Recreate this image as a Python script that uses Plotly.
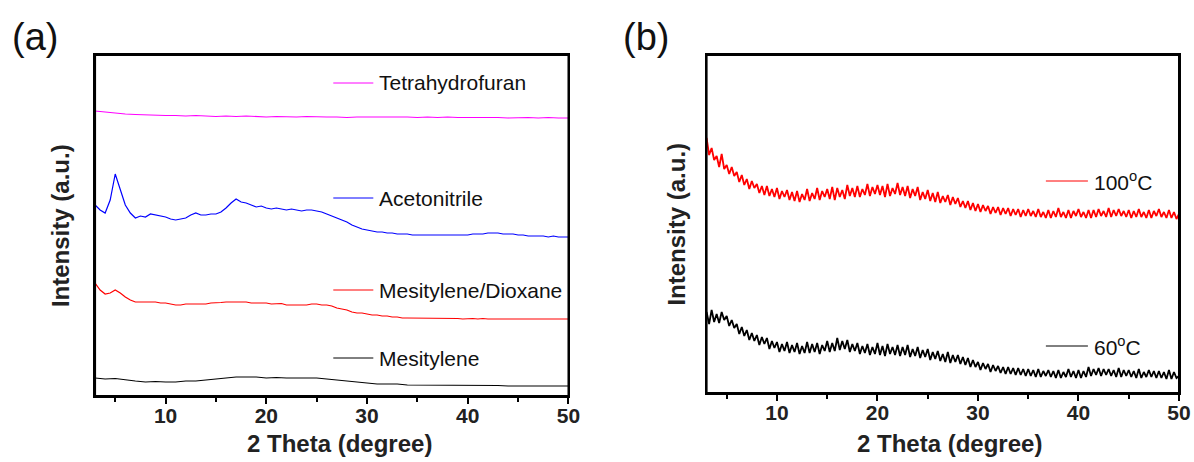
import plotly.graph_objects as go

# ---------------- data ----------------
two_theta_half = [3.0 + 0.5 * i for i in range(95)]     # 3.0 ... 50.0, 0.5 step
two_theta_one = list(range(3, 51))                      # 3 ... 50, 1.0 step
two_theta_quarter = [3.0 + 0.25 * i for i in range(189)]  # 3.0 ... 50.0, 0.25 step

# Panel (a): offset XRD patterns (a.u.)
thf = [289, 288, 286.5, 286, 285.5, 285, 285, 284.5, 284.5, 284, 284.5, 284, 283.5, 284, 283.5, 284,
       283.5, 283, 283.5, 283, 283, 283.5, 283, 283, 283, 282.5, 283, 283, 283, 283.5, 283, 283,
       282.5, 283, 282.5, 283, 282.5, 282.5, 283, 282.5, 282.5, 282, 282.5, 282.5, 282, 282.5, 282, 282]

acetonitrile = [195, 190, 187, 200, 226, 210, 195, 187, 182, 184, 183, 186, 185, 184, 183, 181,
                180, 181, 182, 185, 187, 185, 185, 186, 186, 188, 192, 197, 201, 198, 197, 195,
                193, 194, 192, 191, 192, 191, 190, 191, 190, 189, 190, 190, 189, 188, 186, 184,
                182, 180, 178, 175, 173, 171, 170, 169, 168, 168, 167, 167, 166, 166, 166, 165,
                165, 165, 165, 165, 165, 165, 165, 165, 165, 165, 165, 166, 166, 166, 167, 167,
                167, 166, 166, 166, 165, 165, 164, 164, 164, 164, 163, 164, 163, 163, 163]

mesitylene_dioxane = [117, 110, 106, 107, 110, 107, 103, 100, 98, 98, 98.5, 98, 98, 97, 97, 96,
                      95, 95, 96, 96, 96, 96, 96, 97, 97, 97.5, 98, 98, 98.5, 98, 98, 97,
                      97, 97.5, 97, 96, 96, 96.5, 95, 95, 95.5, 95, 95, 96, 96, 95,
                      95, 94, 92, 91, 90, 88, 87, 87, 86, 85, 85, 84, 84, 83,
                      83, 82, 82, 82, 82, 82, 81.5, 82, 81.5, 81.5, 82, 81.5, 81.5, 81, 81.5,
                      81.5, 81, 81.5, 81, 81, 81.5, 81, 81, 81, 81, 81.5, 81, 81, 81, 81,
                      81, 81, 81, 81, 81]

mesitylene = [22, 21, 21.5, 20, 19, 18, 18.5, 18, 18, 19, 19, 20, 21, 22, 23, 23,
              23, 22, 22.5, 22, 22, 22.5, 22, 21, 20, 19, 18, 17, 16, 16, 16, 15,
              15, 15, 15, 15, 14.5, 15, 14.5, 14.5, 14.5, 14, 14, 14.5, 14, 14, 14, 14]

# Panel (b): synthesis temperature (0.25 degree step)
t100 = [262, 245, 252, 240, 244, 233, 246, 231, 235, 226, 233, 224, 228, 218, 225, 215,
        221, 211, 219, 212, 216, 207, 214, 205, 214, 204, 211, 203, 212, 201, 209, 203,
        210, 200, 208, 199, 209, 198, 206, 200, 211, 199, 207, 201, 212, 200, 209, 203,
        211, 201, 213, 200, 212, 203, 210, 201, 215, 204, 212, 203, 214, 203, 211, 205,
        216, 204, 213, 206, 215, 205, 214, 203, 216, 204, 212, 206, 217, 205, 213, 204,
        214, 202, 211, 204, 213, 200, 208, 201, 210, 199, 207, 198, 208, 197, 204, 198,
        205, 195, 203, 196, 202, 193, 199, 192, 199, 190, 197, 189, 196, 188, 195, 189,
        194, 186, 193, 187, 193, 185, 192, 186, 192, 184, 191, 185, 191, 183, 190, 184,
        191, 184, 189, 183, 191, 183, 188, 182, 190, 182, 189, 183, 192, 183, 188, 182,
        190, 182, 189, 184, 191, 183, 188, 182, 190, 182, 190, 183, 191, 184, 189, 183,
        192, 183, 190, 184, 191, 184, 189, 183, 190, 182, 189, 183, 191, 183, 188, 182,
        190, 182, 189, 184, 191, 183, 188, 182, 190, 182, 188, 181, 186]

t60 = [88, 76, 90, 78, 86, 77, 88, 80, 84, 74, 80, 72, 76, 66, 73, 64,
       70, 60, 67, 59, 65, 55, 63, 56, 62, 51, 59, 52, 58, 48, 56, 49,
       58, 47, 55, 48, 57, 46, 54, 47, 58, 47, 56, 48, 57, 46, 55, 49,
       59, 48, 57, 49, 62, 50, 59, 51, 60, 48, 56, 49, 57, 46, 54, 47,
       56, 45, 53, 46, 57, 45, 54, 44, 56, 46, 53, 45, 55, 44, 53, 45,
       55, 43, 51, 44, 53, 42, 50, 43, 51, 40, 48, 41, 49, 39, 46, 38,
       48, 37, 45, 38, 45, 36, 43, 35, 42, 33, 40, 33, 38, 30, 37, 31,
       36, 28, 35, 29, 34, 27, 33, 26, 33, 26, 32, 25, 32, 25, 31, 24,
       31, 24, 30, 23, 31, 23, 29, 24, 30, 23, 29, 22, 30, 22, 28, 23,
       31, 23, 29, 22, 30, 22, 29, 23, 33, 24, 31, 25, 32, 24, 31, 25,
       31, 24, 30, 23, 32, 23, 30, 24, 30, 23, 29, 22, 31, 22, 28, 23,
       30, 23, 29, 22, 29, 22, 28, 21, 30, 21, 28, 22, 24]

names_a = ["Tetrahydrofuran", "Acetonitrile", "Mesitylene/Dioxane", "Mesitylene"]
colors_a = ["#ff00ff", "#0000ff", "#ff0000", "#000000"]
names_b = ["100<sup>o</sup>C", "60<sup>o</sup>C"]
colors_b = ["#ff0000", "#000000"]
x_ticks = [10, 20, 30, 40, 50]
x_minor = [5, 15, 25, 35, 45]

# ---------------- figure ----------------
W, H = 1194, 462
XS = 1181  # effective horizontal scale observed in the rendered page
FONT = "Liberation Sans, Arial, sans-serif"


def px(x):
    return x / XS


def py(y):
    return 1 - y / H


fig = go.Figure()

series_a = [(two_theta_one, thf), (two_theta_half, acetonitrile),
            (two_theta_half, mesitylene_dioxane), (two_theta_one, mesitylene)]
for (xs, ys), nm, c in zip(series_a, names_a, colors_a):
    fig.add_trace(go.Scatter(x=xs, y=ys, mode="lines", name=nm,
                             line=dict(color=c, width=1.2), xaxis="x", yaxis="y",
                             showlegend=False))

for ys, nm, c in zip([t100, t60], names_b, colors_b):
    fig.add_trace(go.Scatter(x=two_theta_quarter, y=ys, mode="lines", name=nm,
                             line=dict(color=c, width=1.8), xaxis="x2", yaxis="y2",
                             showlegend=False))

xcommon = dict(range=[3, 50], tickmode="array", tickvals=x_ticks,
               ticktext=["<b>%d</b>" % v for v in x_ticks],
               ticks="outside", ticklen=6, tickwidth=2, ticklabelstandoff=-6,
               tickcolor="black", showline=True, linewidth=2, linecolor="black", mirror=True,
               showgrid=False, zeroline=False,
               tickfont=dict(family=FONT, size=21, color="#222222"),
               minor=dict(tickvals=x_minor, ticks="outside", ticklen=4,
                          tickwidth=2, tickcolor="black"))
ycommon = dict(showticklabels=False, ticks="", showline=True, linewidth=2, linecolor="black",
               mirror=True, showgrid=False, zeroline=False)

fig.update_layout(
    width=W, height=H, margin=dict(l=0, r=0, t=0, b=0), autosize=False,
    paper_bgcolor="white", plot_bgcolor="white",
    xaxis=dict(domain=[px(95), px(568)], anchor="y", **xcommon),
    yaxis=dict(domain=[py(396), py(55)], anchor="x", range=[4, 345], **ycommon),
    xaxis2=dict(domain=[px(706), px(1178)], anchor="y2", **xcommon),
    yaxis2=dict(domain=[py(393), py(55)], anchor="x2", range=[7, 345], **ycommon),
)

ann = []
shapes = []
# frames
for xr, yr in (("x domain", "y domain"), ("x2 domain", "y2 domain")):
    shapes.append(dict(type="rect", xref=xr, yref=yr, x0=0, x1=1, y0=0, y1=1,
                       line=dict(color="black", width=2), layer="above"))
# panel labels
for txt, lx in (("(a)", 10), ("(b)", 620)):
    ann.append(dict(text=txt, x=px(lx), y=py(37), xref="paper", yref="paper", xanchor="left",
                    yanchor="middle", showarrow=False, font=dict(family=FONT, size=38, color="#111")))
# axis titles
for cx in (339, 949):
    ann.append(dict(text="<b>2 Theta (degree)</b>", x=px(cx), y=py(443), xref="paper", yref="paper",
                    xanchor="center", yanchor="middle", showarrow=False,
                    font=dict(family=FONT, size=24, color="#222")))
for cx, cy in ((60, 226), (675, 224)):
    ann.append(dict(text="<b>Intensity (a.u.)</b>", x=px(cx), y=py(cy), xref="paper", yref="paper",
                    xanchor="center", yanchor="middle", showarrow=False, textangle=-90,
                    font=dict(family=FONT, size=24, color="#222")))

# legend entries, panel (a)
for nm, c, yy in zip(names_a, colors_a, [83, 198, 290, 358]):
    shapes.append(dict(type="line", xref="paper", yref="paper", x0=px(333), x1=px(373),
                       y0=py(yy), y1=py(yy), line=dict(color=c, width=1)))
    ann.append(dict(text=nm, x=px(377), y=py(yy), xref="paper", yref="paper", xanchor="left",
                    yanchor="middle", showarrow=False, font=dict(family=FONT, size=21, color="#111")))
# legend entries, panel (b)
for nm, c, yy in zip(names_b, colors_b, [181, 346]):
    shapes.append(dict(type="line", xref="paper", yref="paper", x0=px(1045), x1=px(1087),
                       y0=py(yy), y1=py(yy), line=dict(color=c, width=1)))
    ann.append(dict(text=nm, x=px(1091), y=py(yy), xref="paper", yref="paper", xanchor="left",
                    yanchor="middle", showarrow=False, font=dict(family=FONT, size=21, color="#111")))

fig.update_layout(annotations=ann, shapes=shapes)
fig.write_html("out.html",
               config={"displayModeBar": False, "responsive": False},
               post_script="document.body.style.margin='0px';document.body.style.overflow='hidden';")
